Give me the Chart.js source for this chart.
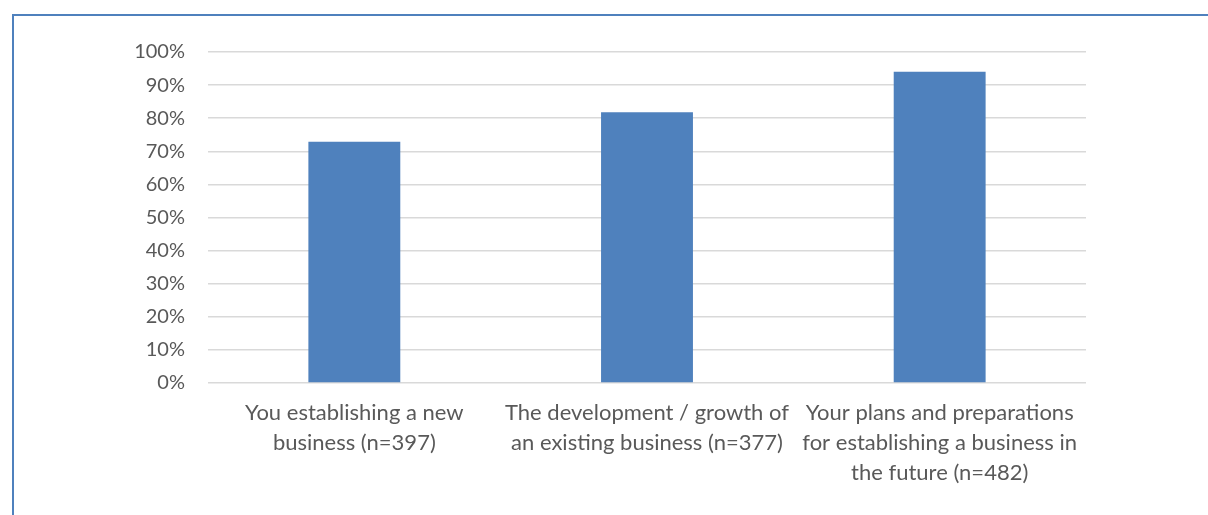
<!DOCTYPE html>
<html>
<head>
<meta charset="utf-8">
<script src="https://cdn.jsdelivr.net/npm/chart.js@4.4.0/dist/chart.umd.min.js"></script>
<style>
  body { margin: 0; background: #fff; }
  #frame {
    position: absolute; left: 12px; top: 14px; width: 1196px; height: 501px;
    border-top: 2px solid #4f81bd; border-left: 2px solid #4f81bd;
  }
  #wrap { position: absolute; left: 0; top: 0; width: 1208px; height: 515px; }
</style>
</head>
<body>
<div id="frame"></div>
<div id="wrap"><canvas id="myBar"></canvas></div>
<script>
const categories = [
    ['You establishing a new', 'business (n=397)'],
    ['The development / growth of', 'an existing business (n=377)'],
    ['Your plans and preparations', 'for establishing a business in', 'the future (n=482)']
]
const shareValues = [72.9, 81.8, 94.0]
const yTicks = [0, 10, 20, 30, 40, 50, 60, 70, 80, 90, 100]

const textColor = '#595959'
const fontFamily = 'Lato, "Open Sans", sans-serif'

const bar_data = {
    labels: categories,
    datasets: [{
        label: 'Share',
        data: shareValues,
        backgroundColor: '#4f81bd',
        barPercentage: 0.314,
        categoryPercentage: 1.0
    }]
}

const config_bar = {
    type: 'bar',
    data: bar_data,
    options: {
        responsive: true,
        maintainAspectRatio: false,
        animation: false,
        layout: { padding: { left: 0, right: 122, top: 52, bottom: 0 } },
        plugins: {
            legend: { display: false },
            tooltip: { enabled: false }
        },
        scales: {
            x: {
                grid: { display: false, drawTicks: false },
                border: { display: false },
                ticks: {
                    color: textColor,
                    padding: 15,
                    maxRotation: 0,
                    autoSkip: false,
                    font: { family: fontFamily, size: 22, lineHeight: 1.364 }
                },
                afterFit: function(scale) { scale.height = 132 }
            },
            y: {
                min: 0,
                max: 100,
                afterBuildTicks: function(scale) {
                    scale.ticks = yTicks.map(v => ({ value: v }))
                },
                grid: { color: '#d9d9d9', lineWidth: 1.5, drawTicks: false },
                border: { display: false },
                ticks: {
                    color: textColor,
                    padding: 23,
                    font: { family: fontFamily, size: 20 },
                    callback: function(value) { return value + '%' }
                },
                afterFit: function(scale) { scale.width = 208 }
            }
        }
    }
}

new Chart(document.getElementById('myBar'), config_bar)
</script>
</body>
</html>
